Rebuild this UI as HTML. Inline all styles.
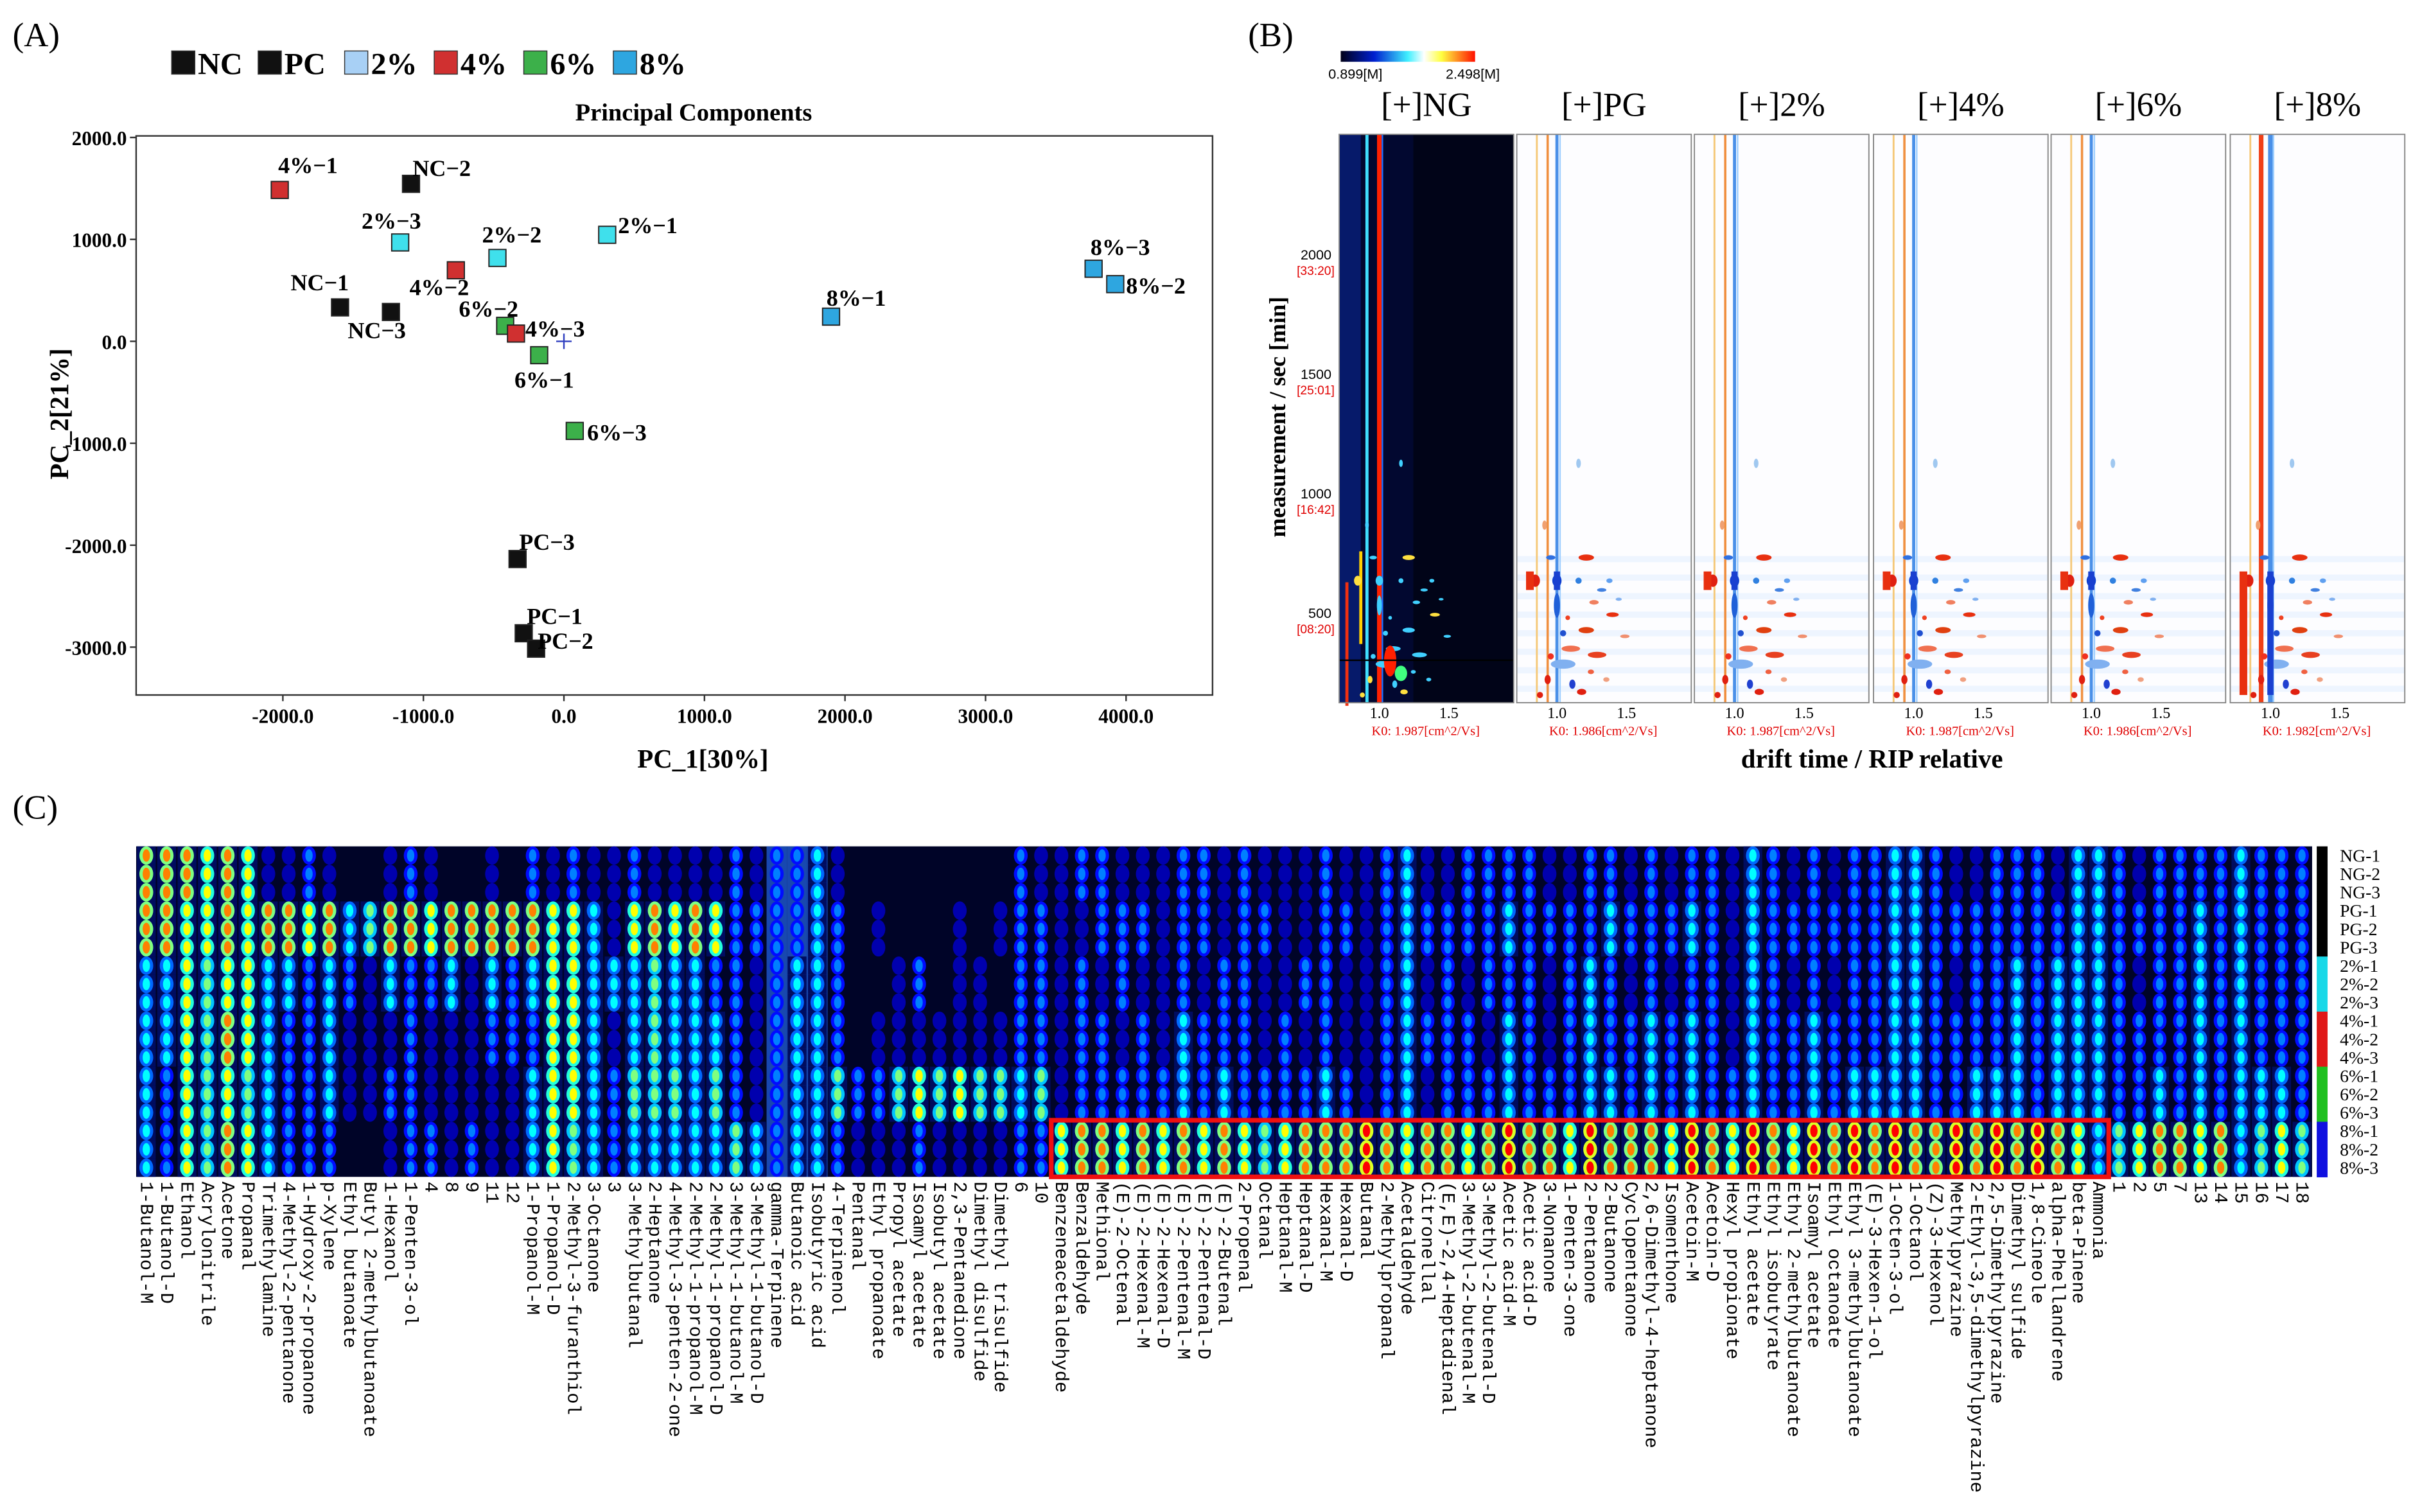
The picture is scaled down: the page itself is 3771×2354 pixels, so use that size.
<!DOCTYPE html>
<html><head><meta charset="utf-8"><style>
html,body{margin:0;padding:0;background:#fff;}
svg{display:block;}
text{font-family:"Liberation Serif",serif;}
</style></head><body>
<svg id="fig" xmlns="http://www.w3.org/2000/svg" width="3771" height="2354" viewBox="0 0 1568 979">
<rect x="0" y="0" width="1568" height="979" fill="#fff"/>
<text x="8" y="30" font-size="22">(A)</text>
<text x="808" y="30" font-size="22">(B)</text>
<text x="8" y="530" font-size="22">(C)</text>
<g id="panelA"></g>
<g id="panelB"></g>
<g id="panelC"></g>
</svg>
<script>
// ---------- Panel A data ----------
const pcaLabels = ["4%−1","NC−2","2%−3","2%−2","2%−1","4%−2","NC−1","NC−3","6%−2","4%−3","6%−1","6%−3","PC−3","PC−1","PC−2","8%−1","8%−3","8%−2"];
const pcaGroups = ["4%","NC","2%","2%","2%","4%","NC","NC","6%","4%","6%","6%","PC","PC","PC","8%","8%","8%"];
const pc1Values = [-2022,-1088,-1165,-473,308,-769,-1593,-1231,-418,-341,-176,77,-330,-286,-198,1901,3769,3923];
const pc2Values = [1485,1545,970,818,1045,697,333,288,152,76,-136,-879,-2136,-2864,-3015,242,712,561];
const xTicks = [-2000,-1000,0,1000,2000,3000,4000];
const yTicks = [2000,1000,0,-1000,-2000,-3000];
const labelDX = [-1,1,-25,-10,7,-30,-32,-28,-30,6,-16,8,1,2,1,-3,-2,7];
const labelDY = [-11,-5,-9,-10,-1,16,-11,17,-6,2,21,6,-6,-6,0,-7,-9,6];
const groupColors = {"NC":"#111","PC":"#111","2%":"#3fe0ec","4%":"#d03030","6%":"#3cb04a","8%":"#2ea6e0"};
const legendGroups = ["NC","PC","2%","4%","6%","8%"];
const legendColors = ["#111","#111","#a8d0f5","#d03030","#3cb04a","#2ea6e0"];

const NS="http://www.w3.org/2000/svg";
function mk(tag, attrs, parent){const e=document.createElementNS(NS,tag);for(const k in attrs)e.setAttribute(k,attrs[k]);parent.appendChild(e);return e;}
const SANS='font-family:"Liberation Sans",sans-serif';
const MONO='font-family:"Liberation Mono",monospace';

(function(){
  const g=document.getElementById('panelA');
  const L=88,R=785,T=88,B=450;
  const xs=v=>365+v*0.0910, ys=v=>221-v*0.0660;
  let e=mk('rect',{x:L,y:T,width:R-L,height:B-T,fill:'none',stroke:'#333','stroke-width':1},g);
  
  
  e=mk('text',{x:449,y:78,'font-size':16,'font-weight':'bold','text-anchor':'middle'},g);e.textContent='Principal Components';
  
  
  e=mk('text',{x:455,y:497,'font-size':17,'font-weight':'bold','text-anchor':'middle'},g);e.textContent='PC_1[30%]';
  
  
  e=mk('text',{x:0,y:0,'font-size':17,'font-weight':'bold','text-anchor':'middle',transform:'translate(44,268) rotate(-90)'},g);e.textContent='PC_2[21%]';
  
  
  xTicks.forEach(v=>{
    const x=xs(v);
    let t=mk('line',{x1:x,x2:x,y1:B,y2:B+4,stroke:'#333'},g);
    
    
    t=mk('text',{x:x,y:B+18,'font-size':13,'font-weight':'bold','text-anchor':'middle'},g);t.textContent=v.toFixed(1);
    
    
  });
  yTicks.forEach(v=>{
    const y=ys(v);
    let t=mk('line',{x1:L-4,x2:L,y1:y,y2:y,stroke:'#333'},g);
    
    
    t=mk('text',{x:L-6,y:y+5,'font-size':13,'font-weight':'bold','text-anchor':'end'},g);t.textContent=v.toFixed(1);
    
    
  });
  e=mk('path',{d:`M${xs(0)-5},${ys(0)}h10M${xs(0)},${ys(0)-5}v10`,stroke:'#3040c0','stroke-width':1},g);
  
  
  pcaLabels.forEach((lab,i)=>{
    const x=xs(pc1Values[i]),y=ys(pc2Values[i]);
    let p=mk('rect',{x:x-5.5,y:y-5.5,width:11,height:11,fill:groupColors[pcaGroups[i]],stroke:'#222','stroke-width':0.8},g);
    
    
    p=mk('text',{x:x+labelDX[i],y:y+labelDY[i],'font-size':15,'font-weight':'bold'},g);p.textContent=lab;
    
    
  });
  legendGroups.forEach((lab,i)=>{
    const lx=[111,167,223,281,339,397][i];
    let s=mk('rect',{x:lx,y:33,width:15,height:15,fill:legendColors[i],stroke:'#333','stroke-width':0.6},g);
    
    
    s=mk('text',{x:lx+17,y:48,'font-size':20,'font-weight':'bold'},g);s.textContent=lab;
    
    
  });
})();

// ---------- Panel B ----------
const bTitles=["[+]NG","[+]PG","[+]2%","[+]4%","[+]6%","[+]8%"];
const bK0=["1.987","1.986","1.987","1.987","1.986","1.982"];
const bYTicks=[2000,1500,1000,500];
const bYTickTimes=["[33:20]","[25:01]","[16:42]","[08:20]"];
const bSpots=[[22,361,3,1.5,'#3070e0'],[45,361,5,2,'#e83010'],[12,376,3,4,'#e02010'],[26,376,3,4,'#1040d0'],[40,376,2,2,'#3080e0'],[60,376,2,1.5,'#60a0f0'],[26,392,2,8,'#2060d8'],[50,390,3,1.5,'#f08060'],[62,398,4,1.5,'#e83010'],[45,408,5,2,'#e04010'],[30,410,2,2,'#2050d0'],[35,420,6,2,'#f07050'],[52,424,6,2,'#e84020'],[30,430,8,3,'#80b0f0'],[20,440,2,3,'#e02010'],[36,443,2,3,'#2040d0'],[15,450,2,2,'#e02010'],[42,448,3,2,'#e02010'],[70,412,3,1.2,'#f09070'],[55,382,3,1.2,'#4080e0'],[40,300,1.5,3,'#a0c8f0'],[18,340,1.5,3,'#f0a070'],[48,435,2,1.5,'#f06040'],[58,440,2,1.5,'#f0a080'],[22,425,2,2,'#f03020'],[33,400,1.5,1.5,'#f04020'],[66,388,2,1,'#80b0f0']];
(function(){
  const g=document.getElementById('panelB');
  const lefts=[867,982,1097,1213,1328,1444],W=113,T=87,B=455;
  const ysB=v=>400-(v-500)*0.1547;
  const defs=mk('defs',{},g);
  const lg=mk('linearGradient',{id:'cb',x1:0,x2:1,y1:0,y2:0},defs);
  [['0','#000018'],['0.25','#0020d0'],['0.5','#40f0ff'],['0.62','#ffffff'],['0.75','#ffff40'],['1','#ff1000']].forEach(s=>mk('stop',{offset:s[0],'stop-color':s[1]},lg));
  let e=mk('rect',{x:868,y:33,width:87,height:7,fill:'url(#cb)'},g);
  
  
  e=mk('text',{x:860,y:51,'font-size':9,style:SANS},g);e.textContent='0.899[M]';
  
  
  e=mk('text',{x:936,y:51,'font-size':9,style:SANS},g);e.textContent='2.498[M]';
  
  
  e=mk('text',{x:0,y:0,'font-size':15,'font-weight':'bold','text-anchor':'middle',transform:'translate(832,270) rotate(-90)'},g);e.textContent='measurement / sec [min]';
  
  
  e=mk('text',{x:1212,y:497,'font-size':17,'font-weight':'bold','text-anchor':'middle'},g);e.textContent='drift time / RIP relative';
  
  
  bYTicks.forEach((v,i)=>{
    let t=mk('text',{x:862,y:ysB(v),'font-size':9,'text-anchor':'end',style:SANS},g);t.textContent=v;
    
    
    t=mk('text',{x:864,y:ysB(v)+10,'font-size':8,'text-anchor':'end',fill:'#e00000',style:SANS},g);t.textContent=bYTickTimes[i];
    
    
  });
  bTitles.forEach((tt,i)=>{
    const L=lefts[i];
    let t=mk('text',{x:L+W/2,y:75,'font-size':22,'text-anchor':'middle'},g);t.textContent=tt;
    
    
    const pg=mk('g',{},g);
    
    
    if(i===0){
      mk('rect',{x:L,y:T,width:W,height:B-T,fill:'#020830'},pg);
      mk('rect',{x:L,y:T,width:14,height:B-T,fill:'#061a6a'},pg);
      mk('rect',{x:L+48,y:T,width:65,height:B-T,fill:'#010418'},pg);
      mk('line',{x1:L+18,x2:L+18,y1:T,y2:B,stroke:'#40e0ff','stroke-width':2},pg);
      mk('line',{x1:L+26,x2:L+26,y1:T,y2:B,stroke:'#ff2000','stroke-width':3},pg);
      mk('line',{x1:L+28,x2:L+28,y1:T,y2:B,stroke:'#2070ff','stroke-width':1},pg);
      mk('path',{d:`M${L+14},${T+270}v60`,stroke:'#ffd000','stroke-width':2},pg);
      mk('path',{d:`M${L+5},${T+290}v80`,stroke:'#f03010','stroke-width':2},pg);
      bSpots.forEach(s=>mk('ellipse',{cx:L+s[0],cy:s[1],rx:s[2]*0.8,ry:s[3]*0.8,fill:s[4]==='#e83010'||s[4]==='#e02010'?'#ffe040':'#40d0ff'},pg));
      mk('ellipse',{cx:L+33,cy:428,rx:4,ry:10,fill:'#ff2000'},pg);
      mk('ellipse',{cx:L+40,cy:436,rx:4,ry:5,fill:'#40ff80'},pg);
      mk('rect',{x:L,y:B-28,width:W,height:1,fill:'#000'},pg);
    } else {
      mk('rect',{x:L,y:T,width:W,height:B-T,fill:'#fdfdff'},pg);
      for(let k=0;k<8;k++) mk('rect',{x:L,y:360+k*12,width:W,height:4,fill:'#eef5ff'},pg);
      const red = i===5;
      mk('line',{x1:L+13,x2:L+13,y1:T,y2:B,stroke:'#f5c878','stroke-width':1.2},pg);
      mk('line',{x1:L+20,x2:L+20,y1:T,y2:B,stroke:red?'#f04018':'#f09040','stroke-width':red?3:1.5},pg);
      mk('line',{x1:L+26,x2:L+26,y1:T,y2:B,stroke:'#4a90e8','stroke-width':red?3:2},pg);
      mk('line',{x1:L+28,x2:L+28,y1:T,y2:B,stroke:'#a0d0ff','stroke-width':1},pg);
      bSpots.forEach(s=>mk('ellipse',{cx:L+s[0],cy:s[1],rx:s[2],ry:s[3],fill:s[4]},pg));
      mk('rect',{x:L+6,y:370,width:5,height:red?80:12,fill:'#e83010'},pg);
      mk('rect',{x:L+24,y:370,width:4,height:red?80:12,fill:'#1a40d0'},pg);
    }
    let f=mk('rect',{x:L,y:T,width:W,height:B-T,fill:'none',stroke:'#888','stroke-width':0.8},g);
    
    
    [['1.0',26],['1.5',71]].forEach(k=>{
      let tl=mk('text',{x:L+k[1],y:465,'font-size':10,'text-anchor':'middle'},g);tl.textContent=k[0];
      
      
    });
    let k=mk('text',{x:L+56,y:476,'font-size':8.5,'text-anchor':'middle',fill:'#e00000'},g);k.textContent='K0:  '+bK0[i]+'[cm^2/Vs]';
    
    
  });
})();

// ---------- Panel C ----------
const compounds=["1-Butanol-M","1-Butanol-D","Ethanol","Acrylonitrile","Acetone","Propanal","Trimethylamine","4-Methyl-2-pentanone","1-Hydroxy-2-propanone","p-Xylene","Ethyl butanoate","Butyl 2-methylbutanoate","1-Hexanol","1-Penten-3-ol","4","8","9","11","12","1-Propanol-M","1-Propanol-D","2-Methyl-3-furanthiol","3-Octanone","3","3-Methylbutanal","2-Heptanone","4-Methyl-3-penten-2-one","2-Methyl-1-propanol-M","2-Methyl-1-propanol-D","3-Methyl-1-butanol-M","3-Methyl-1-butanol-D","gamma-Terpinene","Butanoic acid","Isobutyric acid","4-Terpinenol","Pentanal","Ethyl propanoate","Propyl acetate","Isoamyl acetate","Isobutyl acetate","2,3-Pentanedione","Dimethyl disulfide","Dimethyl trisulfide","6","10","Benzeneacetaldehyde","Benzaldehyde","Methional","(E)-2-Octenal","(E)-2-Hexenal-M","(E)-2-Hexenal-D","(E)-2-Pentenal-M","(E)-2-Pentenal-D","(E)-2-Butenal","2-Propenal","Octanal","Heptanal-M","Heptanal-D","Hexanal-M","Hexanal-D","Butanal","2-Methylpropanal","Acetaldehyde","Citronellal","(E,E)-2,4-Heptadienal","3-Methyl-2-butenal-M","3-Methyl-2-butenal-D","Acetic acid-M","Acetic acid-D","3-Nonanone","1-Penten-3-one","2-Pentanone","2-Butanone","Cyclopentanone","2,6-Dimethyl-4-heptanone","Isomenthone","Acetoin-M","Acetoin-D","Hexyl propionate","Ethyl acetate","Ethyl isobutyrate","Ethyl 2-methylbutanoate","Isoamyl acetate","Ethyl octanoate","Ethyl 3-methylbutanoate","(E)-3-Hexen-1-ol","1-Octen-3-ol","1-Octanol","(Z)-3-Hexenol","Methylpyrazine","2-Ethyl-3,5-dimethylpyrazine","2,5-Dimethylpyrazine","Dimethyl sulfide","1,8-Cineole","alpha-Phellandrene","beta-Pinene","Ammonia","1","2","5","7","13","14","15","16","17","18"];
// intensity per group (NG,PG,2%,4%,6%,8%) 0-9
const intensities=["885555","885544","877777","776666","887878","777767","385555","385444","474444","385554","254332","263332","385343","484444","374334","285333","283334","385433","284433","485455","377777","477776","355555","335344","475565","386665","375565","385555","374565","444446","343335","444444","445555","555555","344464","222243","232343","223363","224374","222363","233373","223363","232363","444454","344464","333337","434448","443448","344347","343448","333347","444558","443447","334458","444447","343346","333447","334348","444458","343348","333339","444448","555557","343438","344448","443447","444348","454559","444448","343348","344447","445559","454458","343448","444558","343447","454559","444448","333347","555559","444448","343447","444559","343448","444459","444458","555559","555558","444448","343449","344458","444459","445558","444449","345558","555557","555555","444446","343447","444458","444448","455557","444448","555555","444456","444457","444446"];
const sampleRows=["NG-1","NG-2","NG-3","PG-1","PG-2","PG-3","2%-1","2%-2","2%-3","4%-1","4%-2","4%-3","6%-1","6%-2","6%-3","8%-1","8%-2","8%-3"];
const rowGroupColors=["#000","#000","#000","#000","#000","#000","#18d8e8","#18d8e8","#18d8e8","#e01818","#e01818","#e01818","#20c020","#20c020","#20c020","#1010e0","#1010e0","#1010e0"];
const texturedCols=["gamma-Terpinene","Butanoic acid","Isobutyric acid"];
function jet(t){
  t=Math.max(0,Math.min(1,t));
  const r=Math.round(255*Math.max(0,Math.min(1,1.5-Math.abs(4*t-3))));
  const g=Math.round(255*Math.max(0,Math.min(1,1.5-Math.abs(4*t-2))));
  const b=Math.round(255*Math.max(0,Math.min(1,1.5-Math.abs(4*t-1))));
  return `rgb(${r},${g},${b})`;
}
(function(){
  const g=document.getElementById('panelC');
  const L=88,R=1497,T=548,B=762;
  const cw=(R-L)/compounds.length, rh=(B-T)/sampleRows.length;
  let bg=mk('rect',{x:L,y:T,width:R-L,height:B-T,fill:'#000428'},g);
  
  
  compounds.forEach((name,c)=>{
    const x=L+c*cw;
    const cg=mk('g',{},g);
    
    
    if(texturedCols.includes(name)) mk('rect',{x:x,y:T,width:cw,height:B-T,fill:'#1848b0'},cg);
    sampleRows.forEach((row,r)=>{
      const v=+intensities[c][Math.floor(r/3)];
      const y=T+r*rh;
      if(v>=5) mk('rect',{x:x+0.5,y:y,width:cw-1,height:rh,fill:'#000c60'},cg);
      if(v>=3){
        const cell=mk('ellipse',{cx:x+cw/2,cy:y+rh/2,rx:cw*0.34,ry:rh*0.5,fill:jet((v-2.5)/11)},cg);
        
        
        if(v>=4) mk('ellipse',{cx:x+cw/2,cy:y+rh/2,rx:cw*0.18,ry:rh*0.34,fill:jet((v-2)/8)},cg);
      }
    });
    const lab=mk('text',{x:0,y:0,'font-size':12,style:MONO,transform:`translate(${x+cw/2-3.5},765) rotate(90)`},g);
    lab.textContent=name;
    
    
  });
  const i0=compounds.indexOf('Benzeneacetaldehyde'), i1=compounds.indexOf('Ammonia');
  let box=mk('rect',{x:L+i0*cw,y:T+15*rh-1,width:(i1-i0+1)*cw,height:3*rh+1,fill:'none',stroke:'#f01010','stroke-width':3},g);
  
  
  sampleRows.forEach((row,r)=>{
    const y=T+r*rh;
    let s=mk('rect',{x:R+3,y:y,width:7,height:rh+0.3,fill:rowGroupColors[r]},g);
    
    
    s=mk('text',{x:R+18,y:y+rh-2,'font-size':11.5},g);s.textContent=row;
    
    
  });
})();
</script>
</body></html>
